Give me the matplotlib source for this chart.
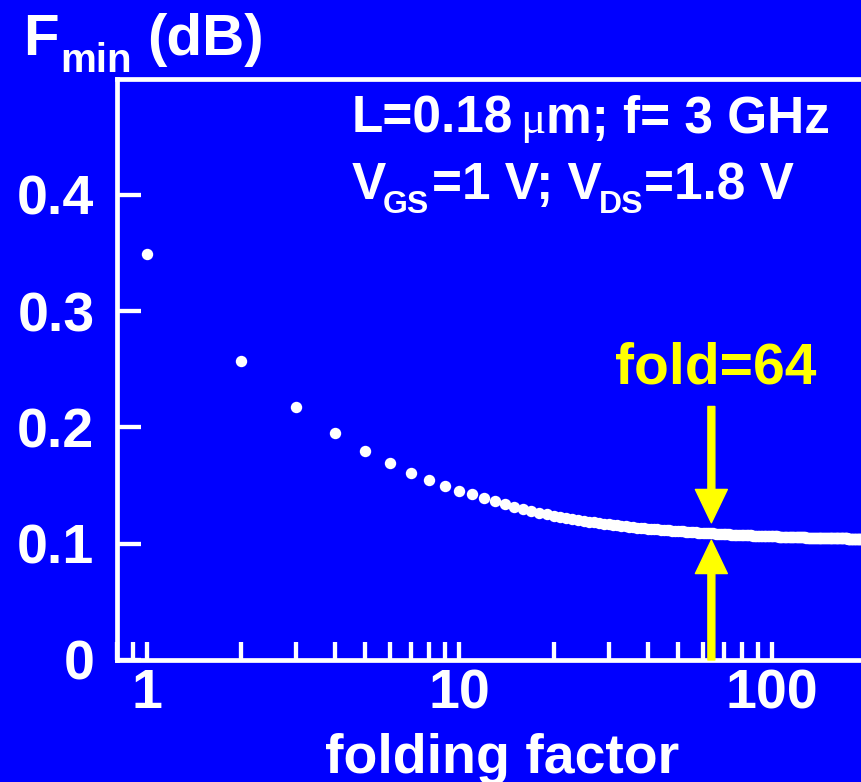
import numpy as np
import matplotlib
matplotlib.use("Agg")
import matplotlib.pyplot as plt
from matplotlib.ticker import LogLocator, NullFormatter, FixedLocator, FixedFormatter

# ---------------- data ----------------
fold = list(range(1, 201))
fmin = [
    0.3490, 0.2570, 0.2176, 0.1950, 0.1800, 0.1690, 0.1610, 0.1550, 0.1500, 0.1456,
    0.1424, 0.1394, 0.1368, 0.1340, 0.1317, 0.1297, 0.1281, 0.1266, 0.1253, 0.1242,
    0.1231, 0.1221, 0.1213, 0.1204, 0.1197, 0.1190, 0.1184, 0.1178, 0.1172, 0.1167,
    0.1163, 0.1158, 0.1154, 0.1150, 0.1146, 0.1143, 0.1139, 0.1136, 0.1133, 0.1130,
    0.1128, 0.1125, 0.1123, 0.1120, 0.1118, 0.1116, 0.1114, 0.1112, 0.1110, 0.1108,
    0.1106, 0.1105, 0.1103, 0.1101, 0.1100, 0.1099, 0.1097, 0.1096, 0.1094, 0.1093,
    0.1092, 0.1091, 0.1090, 0.1089, 0.1088, 0.1086, 0.1085, 0.1084, 0.1084, 0.1083,
    0.1082, 0.1081, 0.1080, 0.1079, 0.1078, 0.1078, 0.1077, 0.1076, 0.1075, 0.1075,
    0.1074, 0.1073, 0.1073, 0.1072, 0.1071, 0.1071, 0.1070, 0.1070, 0.1069, 0.1068,
    0.1068, 0.1067, 0.1067, 0.1066, 0.1066, 0.1065, 0.1065, 0.1064, 0.1064, 0.1064,
    0.1063, 0.1063, 0.1062, 0.1062, 0.1061, 0.1061, 0.1061, 0.1060, 0.1060, 0.1059,
    0.1059, 0.1059, 0.1058, 0.1058, 0.1058, 0.1057, 0.1057, 0.1057, 0.1056, 0.1056,
    0.1056, 0.1055, 0.1055, 0.1055, 0.1055, 0.1054, 0.1054, 0.1054, 0.1053, 0.1053,
    0.1053, 0.1053, 0.1052, 0.1052, 0.1052, 0.1052, 0.1051, 0.1051, 0.1051, 0.1051,
    0.1051, 0.1050, 0.1050, 0.1050, 0.1050, 0.1049, 0.1049, 0.1049, 0.1049, 0.1049,
    0.1048, 0.1048, 0.1048, 0.1048, 0.1048, 0.1048, 0.1047, 0.1047, 0.1047, 0.1047,
    0.1047, 0.1046, 0.1046, 0.1046, 0.1046, 0.1046, 0.1046, 0.1045, 0.1045, 0.1045,
    0.1045, 0.1045, 0.1045, 0.1045, 0.1044, 0.1044, 0.1044, 0.1044, 0.1044, 0.1044,
    0.1044, 0.1043, 0.1043, 0.1043, 0.1043, 0.1043, 0.1043, 0.1043, 0.1042, 0.1042,
    0.1042, 0.1042, 0.1042, 0.1042, 0.1042, 0.1042, 0.1041, 0.1041, 0.1041, 0.1041,
]
x_major_ticks = [1, 10, 100]
x_major_labels = ["1", "10", "100"]
y_ticks = [0, 0.1, 0.2, 0.3, 0.4]
y_labels = ["0", "0.1", "0.2", "0.3", "0.4"]
fold_marker = 64
arrow_upper = (0.218, 0.118)   # from, to
arrow_lower = (0.0, 0.103)     # from, to

# ---------------- style ----------------
W, H = 861, 782
BG = "#0000FF"
FG = "white"
YEL = "#FFFF00"
plt.rcParams["font.family"] = ["Liberation Sans", "DejaVu Sans"]
plt.rcParams["font.weight"] = "bold"

fig = plt.figure(figsize=(W / 100, H / 100), dpi=100, facecolor=BG)
left, right, top, bottom = 116.7, 866.0, 78.5, 660.0
ax = fig.add_axes([left / W, 1 - bottom / H, (right - left) / W, (bottom - top) / H])
ax.set_facecolor(BG)

ax.plot(fold, fmin, "o", color=FG, ms=8.2, mew=0, zorder=3)

ax.set_xscale("log")
ax.set_xlim(0.8, 200)
ax.set_ylim(0, 0.5)

ax.xaxis.set_major_locator(FixedLocator(x_major_ticks))
ax.xaxis.set_major_formatter(FixedFormatter(x_major_labels))
ax.xaxis.set_minor_locator(LogLocator(base=10, subs=tuple(range(2, 10)), numticks=20))
ax.xaxis.set_minor_formatter(NullFormatter())
ax.yaxis.set_major_locator(FixedLocator(y_ticks))
ax.yaxis.set_major_formatter(FixedFormatter(y_labels))

ax.tick_params(axis="x", which="both", direction="in", length=13, width=3.1,
               color=FG, labelcolor=FG, labelsize=40, pad=6, top=False)
ax.tick_params(axis="y", which="major", direction="in", length=17, width=3.1,
               color=FG, labelcolor=FG, labelsize=40, pad=16, right=False)
for lab in ax.get_xticklabels() + ax.get_yticklabels():
    lab.set_fontweight("bold")

for s in ["left", "bottom", "top"]:
    ax.spines[s].set_color(FG)
    ax.spines[s].set_linewidth(3.4)
ax.spines["right"].set_visible(False)

ax.set_xlabel("folding factor", fontsize=40, fontweight="bold", color=FG, va="baseline")
ax.xaxis.set_label_coords((502.5 - left) / (right - left), (bottom - 773) / (bottom - top))

# arrows at fold=64
ax.annotate("", xy=(fold_marker, arrow_upper[1]), xytext=(fold_marker, arrow_upper[0]),
            arrowprops=dict(color=YEL, width=5, headwidth=23, headlength=24, shrink=0),
            zorder=4)
ax.annotate("", xy=(fold_marker, arrow_lower[1]), xytext=(fold_marker, arrow_lower[0]),
            arrowprops=dict(color=YEL, width=5, headwidth=23, headlength=24, shrink=0),
            zorder=4)


def ptext(x, y, s, size, color=FG, **kw):
    kw.setdefault("fontweight", "bold")
    return fig.text(x / W, 1 - y / H, s, fontsize=size, color=color,
                    ha=kw.pop("ha", "left"), va="baseline", **kw)


ptext(716, 384, "fold=64", 41, color=YEL, ha="center")

# y-axis title F_min (dB)
ptext(23, 55, "F", 42)
ptext(60.5, 72, "min", 29)
ptext(147, 55, "(dB)", 42)

# parameter text
ptext(352, 132.7, "L=0.18", 37)
ptext(520, 132.7, "\u03bc", 34, family=["Liberation Serif", "DejaVu Serif"], fontweight="normal")
ptext(546, 132.7, "m; f= 3 GHz", 37)
ptext(352, 199.3, "V", 37)
ptext(383, 213, "GS", 23)
ptext(432, 199.3, "=1 V; V", 37)
ptext(599, 213, "DS", 23)
ptext(644, 199.3, "=1.8 V", 37)

fig.savefig("out.png", dpi=100, facecolor=BG)
